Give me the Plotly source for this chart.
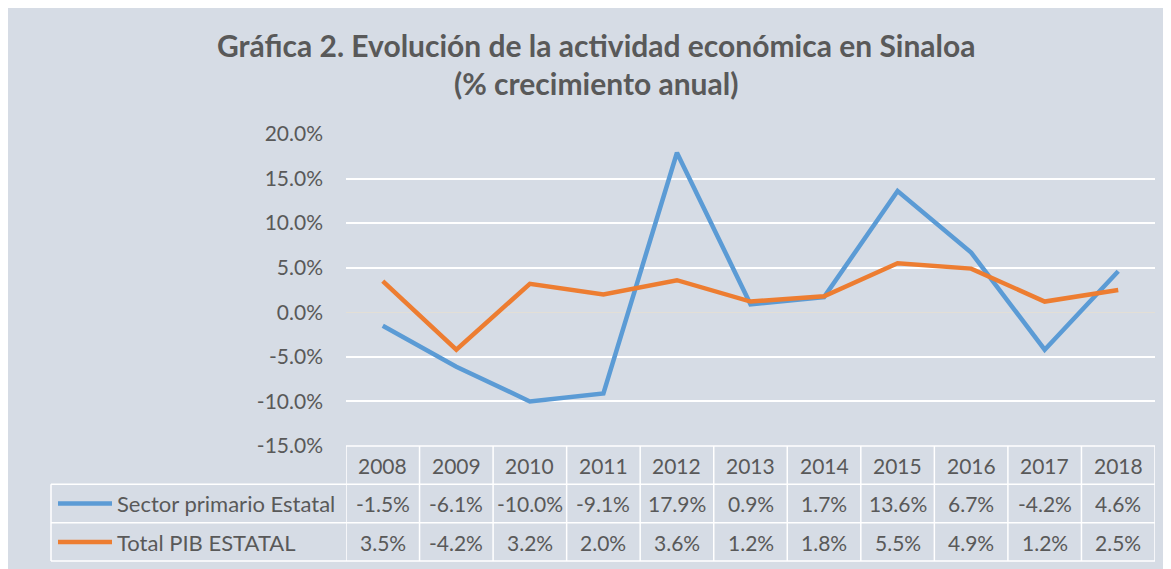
import plotly.graph_objects as go

# Datos
years = ['2008', '2009', '2010', '2011', '2012', '2013', '2014', '2015', '2016', '2017', '2018']
sector_primario = [-1.5, -6.1, -10.0, -9.1, 17.9, 0.9, 1.7, 13.6, 6.7, -4.2, 4.6]
total_pib = [3.5, -4.2, 3.2, 2.0, 3.6, 1.2, 1.8, 5.5, 4.9, 1.2, 2.5]
series_names = ['Sector primario Estatal', 'Total PIB ESTATAL']
series_colors = ['#5B9BD5', '#ED7D31']
title_lines = ['Gráfica 2. Evolución de la actividad económica en Sinaloa',
               '(% crecimiento anual)']
y_ticks = [-15, -10, -5, 0, 5, 10, 15, 20]

BG = '#D6DCE5'
TXT = '#595959'
FONT = 'Lato'

# la pagina tiene 8px de margen; la figura ocupa el resto de la ventana 1171x569
OFF = 8
W, H = 1171 - OFF, 569 - OFF
L, R, T, B = 346 - OFF, 16, 134 - OFF, 123
PW, PH = W - L - R, H - T - B


# coordenadas en pixeles de la ventana -> paper
def px_x(x):
    return (x - OFF - L) / PW


def px_y(y):
    return (H - B - (y - OFF)) / PH


fig = go.Figure()
for name, vals, color in zip(series_names, [sector_primario, total_pib], series_colors):
    fig.add_trace(go.Scatter(
        x=list(range(len(years))), y=vals, name=name, mode='lines',
        line=dict(color=color, width=4.5),
        showlegend=False
    ))

shapes = []
white = dict(color='white', width=1.5)

# tabla de datos
row_lines = [446, 484.3, 522.7, 561]
shapes.append(dict(type='line', xref='paper', yref='paper', x0=0, x1=1,
                   y0=px_y(row_lines[0]), y1=px_y(row_lines[0]), line=white))
for ry in row_lines[1:]:
    shapes.append(dict(type='line', xref='paper', yref='paper', x0=px_x(51), x1=1,
                       y0=px_y(ry), y1=px_y(ry), line=white))
shapes.append(dict(type='line', xref='paper', yref='paper', x0=px_x(51), x1=px_x(51),
                   y0=px_y(row_lines[1]), y1=px_y(row_lines[3]), line=white))
for k in range(len(years) + 1):
    shapes.append(dict(type='line', xref='x', yref='paper', x0=k - 0.5, x1=k - 0.5,
                       y0=px_y(row_lines[0]), y1=px_y(row_lines[3]), line=white))

annotations = []
for i, line in enumerate(title_lines):
    annotations.append(dict(text='<b>' + line + '</b>', xref='paper', yref='paper',
                            x=px_x(596), y=px_y([45, 83][i]), showarrow=False,
                            xanchor='center', yanchor='middle',
                            font=dict(family=FONT, size=30, color=TXT)))

row_centers = [465, 503.5, 542]
for k, yr in enumerate(years):
    annotations.append(dict(text=yr, xref='x', yref='paper', x=k, y=px_y(row_centers[0]),
                            showarrow=False, xanchor='center', yanchor='middle',
                            font=dict(family=FONT, size=21, color=TXT)))
for j, (name, vals, color) in enumerate(zip(series_names, [sector_primario, total_pib], series_colors)):
    cy = row_centers[j + 1]
    shapes.append(dict(type='line', xref='paper', yref='paper', x0=px_x(58), x1=px_x(112),
                       y0=px_y(cy), y1=px_y(cy), line=dict(color=color, width=4.5)))
    annotations.append(dict(text=name, xref='paper', yref='paper', x=px_x(115), y=px_y(cy),
                            showarrow=False, xanchor='left', yanchor='middle',
                            font=dict(family=FONT, size=22, color=TXT)))
    for k, v in enumerate(vals):
        annotations.append(dict(text=f'{v:.1f}%', xref='x', yref='paper', x=k, y=px_y(cy),
                                showarrow=False, xanchor='center', yanchor='middle',
                                font=dict(family=FONT, size=21, color=TXT)))

fig.update_layout(
    width=W, height=H,
    margin=dict(l=L, r=R, t=T, b=B),
    paper_bgcolor=BG, plot_bgcolor=BG,
    shapes=shapes, annotations=annotations,
    xaxis=dict(range=[-0.5, len(years) - 0.5], showgrid=False,
               showticklabels=False, zeroline=False, showline=False),
    yaxis=dict(range=[-15, 20], tickvals=y_ticks,
               ticktext=[f'{t:.1f}%' for t in y_ticks],
               showgrid=True, gridcolor='white', gridwidth=1.5,
               zeroline=True, zerolinecolor='#E3DFD6', zerolinewidth=1,
               showline=False, ticks='', ticklabelstandoff=22,
               tickfont=dict(family=FONT, size=21, color=TXT)),
)

fig.write_html('out.html')
